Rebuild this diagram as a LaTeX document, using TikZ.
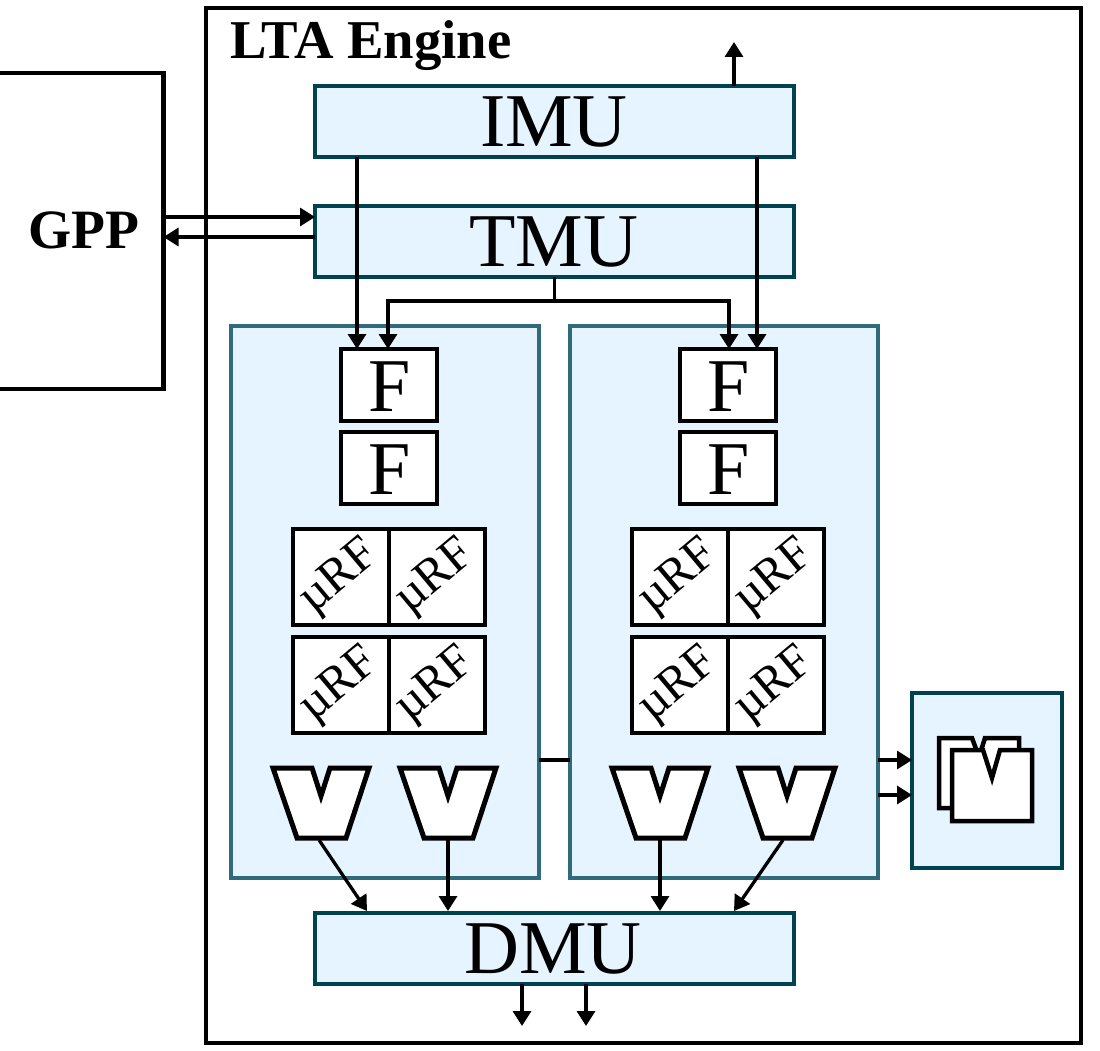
\documentclass[tikz,border=0pt]{standalone}
\usepackage{fontspec}
\setmainfont{Liberation Serif}
\usetikzlibrary{arrows.meta}
\definecolor{panelfill}{HTML}{E6F4FF}
\definecolor{unitline}{HTML}{00424F}
\definecolor{panelline}{HTML}{2F6B7B}
\tikzset{
  big/.style={font=\fontsize{76}{76}\selectfont},
  unitbox/.style={draw=unitline,fill=panelfill,line width=4.5pt,minimum width=479pt,minimum height=71pt,inner sep=0pt,outer sep=0pt},
  unittext/.style={big,inner sep=0pt},
  panelbox/.style={draw=panelline,fill=panelfill,line width=4.5pt,minimum width=308pt,minimum height=552pt,inner sep=0pt,outer sep=0pt},
  fbox/.style={draw=black,fill=white,line width=4.6pt,minimum width=96pt,minimum height=72pt,inner sep=0pt,outer sep=0pt},
  rfbox/.style={draw=black,fill=white,line width=4.6pt,minimum width=96pt,minimum height=96pt,inner sep=0pt,outer sep=0pt},
  rftext/.style={font=\fontsize{49}{49}\selectfont,rotate=40,inner sep=0pt},
  wire/.style={draw=black,line width=3.3pt},
  arr/.style={wire,-{Triangle[length=15pt,width=18pt]}},
  pics/valve/.style={code={
    \draw[black,fill=white,line width=5pt,miter limit=10] (2,2) -- (41,2) -- (50,30) -- (59,2) -- (98,2) -- (75,72) -- (26,72) -- cycle;
    \coordinate (-bl) at (48,74);
    \coordinate (-bc) at (50,74);
  }}
}
\begin{document}
\begin{tikzpicture}[x=1pt,y=-1pt]
\useasboundingbox (0,0) rectangle (1100,1051);
\clip (0,0) rectangle (1100,1051);
% outer boxes
\node[draw=black,line width=4.5pt,minimum width=875pt,minimum height=1035pt,inner sep=0pt,outer sep=0pt] (lta) at (643.5,525.5) {};
\node[font=\fontsize{54.7}{55}\selectfont\bfseries,anchor=west,inner sep=0pt] (ltat) at (230,46) {LTA Engine};
\node[draw=black,line width=4.5pt,minimum width=184pt,minimum height=316pt,inner sep=0pt,outer sep=0pt] (gppbox) at (71.5,231) {};
\node[font=\fontsize{55.5}{56}\selectfont\bfseries,inner sep=0pt] (gpp) at (84,230) {GPP};
% units
\node[unitbox] (imu) at (554.5,121.5) {};
\node[unittext] (imut) at (554,122) {IMU};
\node[unitbox] (tmu) at (554.5,241.5) {};
\node[unittext] (tmut) at (554,242) {TMU};
\node[unitbox] (dmu) at (554.5,948.5) {};
\node[unittext] (dmut) at (553,949) {DMU};
% panels
\node[panelbox] (pl) at (385,602) {};
\node[panelbox] (pr) at (724,602) {};
\node[draw=unitline,fill=panelfill,line width=4.5pt,minimum width=150pt,minimum height=175pt,inner sep=0pt,outer sep=0pt] (cache) at (987,780.5) {};
% F
\node[fbox] (f1) at (389,385) {};
\node[big,inner sep=0pt] (f1t) at (390,387) {F};
\node[fbox] (f2) at (389,468) {};
\node[big,inner sep=0pt] (f2t) at (390,470) {F};
\node[fbox] (f3) at (728,385) {};
\node[big,inner sep=0pt] (f3t) at (729,387) {F};
\node[fbox] (f4) at (728,468) {};
\node[big,inner sep=0pt] (f4t) at (729,470) {F};
% uRF
\foreach \n/\x/\y in {a/341/577,b/437/577,c/341/685,d/437/685,e/680/577,g/776/577,h/680/685,k/776/685}{
  \node[rfbox] (rf\n) at (\x,\y) {};
  \node[rftext] (rft\n) at (\x-1,\y+1) {µRF};
}
% valves
\pic (v1) at (271,766) {valve};
\pic (v2) at (398,766) {valve};
\pic (v3) at (610,766) {valve};
\pic (v4) at (737,766) {valve};
% cache icon
\draw[black,fill=white,line width=4.5pt,miter limit=10] (939,738) -- (972,738) -- (979,757) -- (985,738) -- (1019,738) -- (1019,808) -- (939,808) -- cycle;
\draw[black,fill=white,line width=4.5pt,miter limit=10] (952,750) -- (983,750) -- (992,778) -- (1000,750) -- (1032,750) -- (1032,821) -- (952,821) -- cycle;
% connector anchors
\coordinate (imul) at (357,0);
\coordinate (imur) at (757,0);
\coordinate (gin) at (0,217);
\coordinate (gout) at (0,237);
\coordinate (bus) at (0,301);
% connectors
\draw[arr] (imul |- imu.south) -- (imul |- f1.north);
\draw[arr] (imur |- imu.south) -- (imur |- f3.north);
\draw[wire] (tmu.south) -- (tmu.south |- bus);
\draw[arr] (tmu.south |- bus) -| ([xshift=-1pt]f1.north);
\draw[arr] (tmu.south |- bus) -| ([xshift=1pt]f3.north);
\draw[arr] (gppbox.east |- gin) -- (tmu.west |- gin);
\draw[arr] (tmu.west |- gout) -- (gppbox.east |- gout);
\draw[arr] (734,86) -- (734,42);
\draw[wire] (pl.east |- 0,760) -- (pr.west |- 0,760);
\draw[arr] (pr.east |- 0,760) -- (cache.west |- 0,760);
\draw[arr] (pr.east |- 0,795) -- (cache.west |- 0,795);
\draw[arr] (v1-bl) -- (367,911);
\draw[arr] (v2-bc) -- (448,911);
\draw[arr] (v3-bc) -- (660,911);
\draw[arr] ([xshift=-4pt]v4-bc) -- (734,911);
\draw[arr] (522,984) -- (522,1026);
\draw[arr] (586,984) -- (586,1026);
\end{tikzpicture}
\end{document}
